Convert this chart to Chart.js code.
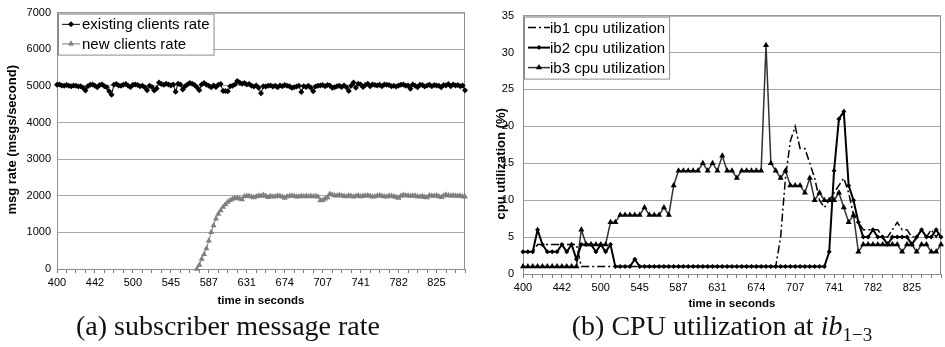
<!DOCTYPE html>
<html>
<head>
<meta charset="utf-8">
<script src="https://cdn.jsdelivr.net/npm/chart.js@4.4.1/dist/chart.umd.min.js"></script>
<style>
  body { margin:0; background:#fff; width:945px; height:347px; overflow:hidden; position:relative; }
  .panel { position:absolute; top:0; }
  .caption { position:absolute; top:312px; font-family:'Liberation Serif', serif; font-size:28px; line-height:28px; text-align:center; color:#111; white-space:nowrap; }
  .caption sub { font-size:0.68em; vertical-align:-0.3em; line-height:0; }
</style>
</head>
<body>
<div class="panel" style="left:0"><canvas id="rateChart" width="470" height="312"></canvas></div>
<div class="panel" style="left:470px"><canvas id="cpuChart" width="475" height="312"></canvas></div>
<div class="caption" style="left:0;width:456px">(a) subscriber message rate</div>
<div class="caption" style="left:472px;width:500px">(b) CPU utilization at <i>ib</i><sub>1−3</sub></div>
<script>
// time labels printed under both x axes
const timeTicks = ['400','442','500','545','587','631','674','707','741','782','825'];

// (a) msgs/second, one value per sample
const existingRate = [
  5030,5040,5010,5000,5020,5000,4990,5010,5000,4980,4990,4950,4870,4990,5030,5040,
  5000,4960,5020,5040,4990,4960,4850,4760,5030,5050,5010,5000,5030,5050,5000,4970,
  5030,5040,5020,4990,5000,4960,4880,5000,4970,4870,4930,5090,5050,5030,5060,5040,
  5010,5040,4840,5060,5040,4900,4990,5040,5080,5060,5020,4960,4880,5040,5080,5030,
  5000,4960,5010,4970,5030,5050,4860,4860,4850,4990,5000,5040,5130,5090,5060,5080,
  5040,5050,5000,4980,5010,4950,4800,4990,4980,5000,5010,4980,5000,4960,5010,4990,
  5020,5000,4990,4950,4960,4980,5000,4830,4990,4970,5000,4950,4850,4980,5000,5010,
  5020,4990,5020,5010,4950,4960,4990,5000,4970,5010,4960,4860,5000,5090,4950,5060,
  5040,4970,5020,5060,4990,5040,5020,5010,5030,4990,5040,5030,5020,4990,5000,4980,
  5010,5030,5040,5000,5010,4920,5040,5000,4960,5030,5020,4980,5010,5030,4990,5020,
  5010,5000,4960,5020,5010,5050,4990,5040,5010,5020,4990,5010,4880
];
const newRateStart = 59; // sample where the new clients start
const newRate = [
  0,110,270,400,560,770,1000,1190,1370,1500,1600,1690,1760,1830,1880,1910,1940,1940,1920,1900,1980,
  1990,1990,1970,1950,1980,2000,1990,2020,1990,1960,1990,1970,1980,2000,1990,1970,
  1940,1980,1990,2000,1990,1970,1980,1990,1980,1990,1980,1990,1980,1990,1970,1870,
  1880,1920,1950,2050,2030,2010,2000,2020,2000,1990,1980,2010,1990,1970,1990,2010,
  1980,1990,2000,2010,1990,1970,1980,2000,2010,1990,1980,1970,2000,1990,1980,1960,
  1940,1990,2020,2010,2000,1990,2000,2000,1980,1970,1990,1960,1950,2010,2000,1990,
  2010,1980,1960,2000,2030,2010,2000,2010,2000,1990,2000,1980,1970
];

// (b) cpu utilization %, one value per sample
const ib1Cpu = [
  3,3,3,4,4,4,4,4,4,4,4,4,
  1,1,1,1,1,1,1,1,1,1,1,1,1,1,1,1,1,1,1,1,1,1,1,1,1,1,1,1,1,1,1,1,1,1,1,1,1,1,1,1,1,
  5,13,18,20,17,17,15,13,10,9,10,11,12,13,11,8,7,6,6,6,6,5,5,6,7,6,6,5,5,6,5,6,5,6
];
const ib2Cpu = [
  3,3,3,6,4,3,3,3,4,3,4,2,4,4,4,3,4,3,4,1,1,1,1,2,
  1,1,1,1,1,1,1,1,1,1,1,1,1,1,1,1,1,1,1,1,1,1,1,1,1,1,1,1,1,1,1,1,1,1,1,1,1,1,1,
  3,14,21,22,12,10,7,5,5,6,5,5,4,5,5,5,5,4,5,6,5,5,6,5
];
const ib3Cpu = [
  1,1,1,1,1,1,1,1,1,1,1,1,6,4,4,4,4,4,7,7,8,8,8,8,8,9,8,8,8,9,8,12,
  14,14,14,14,14,15,14,15,14,16,14,14,13,14,14,14,14,14,
  31,15,14,13,14,12,12,12,11,13,10,11,10,10,10,11,9,7,8,3,
  4,4,4,4,4,4,4,4,3,4,4,3,4,4,3,3,4
];

const sans = "'Liberation Sans', Arial, sans-serif";

function timeLabels(n, every) {
  return Array.from({length: n}, (_, i) => (i % every === 0 && timeTicks[i / every]) ? timeTicks[i / every] : '');
}

function marker(ctx, style, x, y, r) {
  ctx.beginPath();
  if (style === 'triangle') {
    ctx.moveTo(x, y - r); ctx.lineTo(x + r * 0.87, y + r * 0.5); ctx.lineTo(x - r * 0.87, y + r * 0.5);
  } else {
    ctx.moveTo(x, y - r); ctx.lineTo(x + r, y); ctx.lineTo(x, y + r); ctx.lineTo(x - r, y);
  }
  ctx.closePath();
  ctx.fill();
}

// top + right edge of the plot area
const frame = {
  id: 'frame',
  beforeDatasetsDraw(chart) {
    const {ctx, chartArea: a} = chart;
    ctx.save();
    ctx.strokeStyle = '#8c8c8c'; ctx.lineWidth = 1;
    ctx.beginPath();
    ctx.moveTo(a.left, a.top + 0.5); ctx.lineTo(a.right - 0.5, a.top + 0.5); ctx.lineTo(a.right - 0.5, a.bottom);
    ctx.stroke();
    ctx.restore();
  }
};

// excel style legend box in the top-left corner
const boxLegend = {
  id: 'boxLegend',
  afterDraw(chart, args, o) {
    const {ctx, chartArea: a} = chart;
    const sets = chart.data.datasets;
    ctx.save();
    ctx.font = o.font;
    const textW = Math.max(...sets.map(d => ctx.measureText(d.label).width));
    const x = a.left + 1, y = a.top + 1;
    const w = o.textX + textW + 4, h = sets.length * o.row + 2;
    ctx.fillStyle = '#fff'; ctx.fillRect(x, y, w, h);
    ctx.strokeStyle = '#8c8c8c'; ctx.lineWidth = 1; ctx.strokeRect(x + 0.5, y + 0.5, w, h);
    ctx.textBaseline = 'middle';
    sets.forEach((d, i) => {
      const cy = y + 1 + o.row * (i + 0.5);
      ctx.strokeStyle = d.borderColor; ctx.lineWidth = d.borderWidth;
      ctx.setLineDash(d.borderDash || []);
      ctx.beginPath(); ctx.moveTo(x + 4, cy); ctx.lineTo(x + 4 + o.sample, cy); ctx.stroke();
      ctx.setLineDash([]);
      if (d.pointRadius) {
        ctx.fillStyle = d.pointBackgroundColor;
        marker(ctx, d.pointStyle, x + 4 + o.sample / 2, cy, d.pointRadius);
      }
      ctx.fillStyle = '#000';
      ctx.fillText(d.label, x + o.textX, cy + 1);
    });
    ctx.restore();
  }
};

// rotated y axis title, free to sit off centre
const sideTitle = {
  id: 'sideTitle',
  afterDraw(chart, args, o) {
    const {ctx, chartArea: a} = chart;
    ctx.save();
    ctx.translate(o.x, (a.top + a.bottom) / 2 + o.shift);
    ctx.rotate(-Math.PI / 2);
    ctx.font = o.font; ctx.fillStyle = '#000';
    ctx.textAlign = 'center'; ctx.textBaseline = 'middle';
    ctx.fillText(o.text, 0, 0);
    ctx.restore();
  }
};

function baseOptions(cfg) {
  return {
    responsive: false,
    animation: false,
    devicePixelRatio: 1,
    layout: {padding: cfg.padding},
    plugins: {
      legend: {display: false},
      tooltip: {enabled: false},
      boxLegend: cfg.legend,
      sideTitle: cfg.yTitle
    },
    scales: {
      x: {
        type: 'category',
        offset: false,
        afterFit: s => { s.height = cfg.xHeight; },
        grid: {
          drawOnChartArea: false,
          tickLength: 4,
          color: c => (c.index % cfg.tickEvery === 0 ? '#7a7a7a' : 'rgba(0,0,0,0)')
        },
        border: {color: '#8c8c8c'},
        ticks: {autoSkip: false, maxRotation: 0, minRotation: 0, padding: 3, color: '#000', font: {family: sans, size: 11}},
        title: {display: true, text: 'time in seconds', color: '#000', padding: 0, font: {family: sans, size: 11.5, weight: 'bold'}}
      },
      y: {
        min: 0,
        max: cfg.yMax,
        afterFit: s => { s.width = cfg.yWidth; },
        grid: {color: '#a6a6a6', drawTicks: false},
        border: {color: '#8c8c8c'},
        ticks: {
          stepSize: cfg.yStep, padding: cfg.yPad, color: '#000', font: {family: sans, size: 11},
          callback: v => String(v)
        }
      }
    }
  };
}

new Chart(document.getElementById('rateChart'), {
  type: 'line',
  data: {
    labels: timeLabels(existingRate.length, 16),
    datasets: [
      {
        label: 'existing clients rate', data: existingRate,
        borderColor: '#000', borderWidth: 1, pointStyle: 'rectRot', pointRadius: 3,
        pointBackgroundColor: '#000', pointBorderWidth: 0, clip: 6
      },
      {
        label: 'new clients rate', data: Array(newRateStart).fill(null).concat(newRate),
        borderColor: '#7f7f7f', borderWidth: 1, pointStyle: 'triangle', pointRadius: 3.5,
        pointBackgroundColor: '#7f7f7f', pointBorderWidth: 0, clip: 6
      }
    ]
  },
  options: baseOptions({
    padding: {top: 7, right: 5, bottom: 4, left: 0},
    xHeight: 39, yWidth: 57, yPad: 6, yMax: 7000, yStep: 1000, tickEvery: 4,
    legend: {font: '15px ' + sans, textX: 24, sample: 18, row: 19.5},
    yTitle: {text: 'msg rate (msgs/second)', x: 12.5, shift: -1, font: 'bold 13px ' + sans}
  }),
  plugins: [frame, boxLegend, sideTitle]
});

new Chart(document.getElementById('cpuChart'), {
  type: 'line',
  data: {
    labels: timeLabels(ib1Cpu.length, 8),
    datasets: [
      {
        label: 'ib1 cpu utilization', data: ib1Cpu,
        borderColor: '#000', borderWidth: 1.5, borderDash: [8, 3, 2, 3], pointRadius: 0, clip: 6
      },
      {
        label: 'ib2 cpu utilization', data: ib2Cpu,
        borderColor: '#000', borderWidth: 2, pointStyle: 'rectRot', pointRadius: 2.5,
        pointBackgroundColor: '#000', pointBorderWidth: 0, clip: 6
      },
      {
        label: 'ib3 cpu utilization', data: ib3Cpu,
        borderColor: '#333', borderWidth: 1.5, pointStyle: 'triangle', pointRadius: 3.5,
        pointBackgroundColor: '#000', pointBorderWidth: 0, clip: 6
      }
    ]
  },
  options: baseOptions({
    padding: {top: 7, right: 1, bottom: 1, left: 0},
    xHeight: 37, yWidth: 53, yPad: 9, yMax: 35, yStep: 5, tickEvery: 2,
    legend: {font: '15px ' + sans, textX: 26, sample: 22, row: 20},
    yTitle: {text: 'cpu utilization (%)', x: 31, shift: 19, font: 'bold 13px ' + sans}
  }),
  plugins: [frame, boxLegend, sideTitle]
});
</script>
</body>
</html>
